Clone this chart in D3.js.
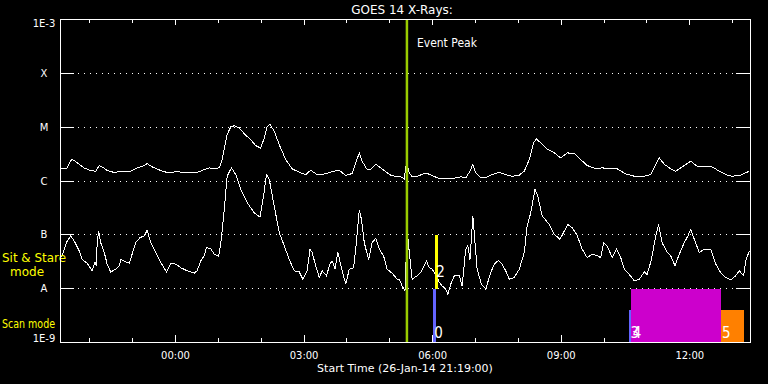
<!DOCTYPE html>
<html>
<head>
<meta charset="utf-8">
<script src="https://cdn.jsdelivr.net/npm/d3@7"></script>
<style>
  body { margin: 0; background: #000; }
  svg { display: block; font-family: "DejaVu Sans", sans-serif; }
</style>
</head>
<body>
<script>
// GOES 14 X-ray flux, minutes after start time (26-Jan-14 21:19:00)
const upperMin = [
  0, 10, 16, 20, 27, 34, 43, 50, 55, 59,
  66, 76, 85, 99, 108, 118, 122, 129, 141, 150,
  164, 178, 192, 202, 209, 216, 223, 227, 232, 234,
  239, 244, 251, 258, 267, 274, 281, 286, 290, 294,
  300, 307, 316, 325, 335, 344, 351, 360, 372, 381,
  391, 400, 409, 414, 419, 423, 430, 435, 442, 449,
  456, 463, 472, 477, 482, 485, 489, 493, 500, 512,
  519, 528, 538, 549, 561, 568, 574, 578, 582, 589,
  596, 605, 615, 624, 633, 643, 650, 657, 663, 667,
  673, 682, 692, 701, 710, 720, 729, 738, 750, 759,
  769, 780, 792, 804, 818, 827, 833, 839, 846, 855,
  862, 871, 883, 892, 902, 913, 923, 932, 941, 953,
  965];
const upperFlux = [
  1.7e-6, 1.7e-6, 2.45e-6, 2.35e-6, 2.0e-6, 1.7e-6, 1.53e-6, 1.49e-6, 1.9e-6, 1.79e-6,
  1.53e-6, 1.41e-6, 1.47e-6, 1.49e-6, 1.72e-6, 1.9e-6, 2.06e-6, 1.79e-6, 1.53e-6, 1.41e-6,
  1.45e-6, 1.41e-6, 1.41e-6, 1.6e-6, 1.72e-6, 1.65e-6, 1.72e-6, 2.45e-6, 5.3e-6, 7.1e-6,
  9.9e-6, 1.04e-5, 9.5e-6, 7.4e-6, 5.7e-6, 4.45e-6, 4.0e-6, 6.2e-6, 1.01e-5, 1.1e-5,
  8.2e-6, 4.6e-6, 2.45e-6, 1.65e-6, 1.42e-6, 1.29e-6, 1.55e-6, 1.29e-6, 1.33e-6, 1.47e-6,
  1.55e-6, 1.24e-6, 1.35e-6, 2.13e-6, 3.26e-6, 2.28e-6, 1.6e-6, 1.6e-6, 2.0e-6, 1.72e-6,
  1.45e-6, 1.26e-6, 1.17e-6, 1.17e-6, 1.07e-6, 2.13e-6, 1.39e-6, 1.17e-6, 1.2e-6, 1.37e-6,
  1.28e-6, 1.12e-6, 1.07e-6, 1.08e-6, 1.17e-6, 1.12e-6, 1.49e-6, 2.0e-6, 1.39e-6, 1.12e-6,
  1.12e-6, 1.29e-6, 1.42e-6, 1.29e-6, 1.2e-6, 1.26e-6, 1.49e-6, 2.45e-6, 5.0e-6, 5.9e-6,
  5.0e-6, 3.86e-6, 3.26e-6, 2.63e-6, 3.26e-6, 3.16e-6, 2.45e-6, 1.9e-6, 1.65e-6, 1.72e-6,
  1.65e-6, 1.65e-6, 1.33e-6, 1.2e-6, 1.2e-6, 1.29e-6, 1.84e-6, 2.63e-6, 2.0e-6, 1.65e-6,
  1.49e-6, 1.79e-6, 2.28e-6, 1.84e-6, 1.79e-6, 1.79e-6, 1.49e-6, 1.29e-6, 1.2e-6, 1.26e-6,
  1.49e-6];

const lowerMin = [
  0, 3, 10, 15, 20, 27, 31, 38, 45, 49,
  51, 52, 54, 57, 62, 66, 71, 78, 83, 85,
  92, 97, 101, 106, 112, 118, 122, 127, 134, 141,
  149, 155, 162, 169, 178, 188, 192, 197, 202, 205,
  211, 216, 222, 225, 230, 234, 240, 246, 253, 262,
  272, 280, 285, 289, 293, 300, 307, 314, 321, 328,
  335, 340, 346, 350, 353, 358, 363, 367, 373, 378,
  381, 385, 389, 394, 400, 405, 411, 414, 419, 422,
  426, 432, 437, 442, 447, 453, 458, 465, 472, 475,
  479, 483, 486, 489, 493, 500, 505, 513, 517, 521,
  526, 531, 535, 540, 543, 547, 552, 559, 563, 568,
  571, 574, 578, 581, 584, 590, 596, 603, 608, 614,
  619, 624, 629, 636, 643, 650, 654, 659, 665, 669,
  675, 685, 692, 700, 706, 711, 717, 724, 731, 738,
  745, 752, 757, 761, 766, 773, 779, 785, 790, 797,
  804, 811, 818, 822, 828, 834, 838, 843, 850, 855,
  861, 867, 874, 879, 883, 888, 895, 902, 911, 918,
  925, 932, 939, 946, 951, 957, 960, 965];
const lowerFlux = [
  3.7e-8, 4.0e-8, 7.5e-8, 9.3e-8, 7.5e-8, 4.9e-8, 3.4e-8, 2.9e-8, 2.1e-8, 3.0e-8,
  2.6e-8, 7.0e-8, 1.15e-7, 7.0e-8, 4.6e-8, 2.8e-8, 2.0e-8, 2.25e-8, 2.6e-8, 3.4e-8,
  3.1e-8, 2.9e-8, 4.3e-8, 7.0e-8, 8.7e-8, 9.3e-8, 1.2e-7, 7.0e-8, 4.6e-8, 3.0e-8,
  2.0e-8, 2.9e-8, 2.8e-8, 2.4e-8, 2.1e-8, 1.9e-8, 2.1e-8, 3.2e-8, 4.0e-8, 5.7e-8,
  5.4e-8, 4.3e-8, 3.9e-8, 6.5e-8, 2.9e-7, 1.2e-6, 1.72e-6, 1.29e-6, 6.8e-7, 3.9e-7,
  2.5e-7, 2.1e-7, 5.1e-7, 1.29e-6, 1.04e-6, 3.3e-7, 1.07e-7, 6.1e-8, 3.4e-8, 2.1e-8,
  2.0e-8, 1.47e-8, 2.1e-8, 5.3e-8, 4.6e-8, 2.6e-8, 1.58e-8, 2.1e-8, 1.7e-8, 2.8e-8,
  3.2e-8, 2.3e-8, 4.6e-8, 2.4e-8, 1.19e-8, 2.25e-8, 2.4e-8, 5.3e-8, 2.8e-7, 1.9e-7,
  7.0e-8, 3.4e-8, 7.0e-8, 8.4e-8, 5.3e-8, 4.0e-8, 2.25e-8, 1.9e-8, 1.47e-8, 1.47e-8,
  1.1e-8, 8.9e-9, 1.24e-7, 4.6e-8, 1.47e-8, 1.7e-8, 1.95e-8, 3.2e-8, 2.4e-8, 2.25e-8,
  1.8e-8, 1.28e-8, 1.1e-8, 9.6e-9, 7.7e-9, 1.19e-8, 1.7e-8, 1.7e-8, 1.1e-8, 5.3e-8,
  6.1e-8, 3.4e-8, 2.2e-7, 7.0e-8, 2.25e-8, 1.19e-8, 9.6e-9, 1.95e-8, 2.8e-8, 3.3e-8,
  2.8e-8, 2.1e-8, 1.47e-8, 1.58e-8, 2.25e-8, 4.6e-8, 1.42e-7, 2.5e-7, 6.8e-7, 5.1e-7,
  2.2e-7, 1.53e-7, 1.0e-7, 8.1e-8, 1.15e-7, 1.53e-7, 1.33e-7, 9.6e-8, 5.3e-8, 3.7e-8,
  4.3e-8, 4.0e-8, 3.7e-8, 7.0e-8, 6.1e-8, 3.7e-8, 5.3e-8, 3.7e-8, 2.25e-8, 1.8e-8,
  1.37e-8, 1.47e-8, 2.0e-8, 1.8e-8, 3.4e-8, 9.3e-8, 1.53e-7, 7.0e-8, 4.6e-8, 4.0e-8,
  2.6e-8, 4.3e-8, 7.0e-8, 9.3e-8, 1.24e-7, 8.1e-8, 4.6e-8, 5.3e-8, 5.3e-8, 2.8e-8,
  1.95e-8, 1.58e-8, 1.42e-8, 1.7e-8, 2.1e-8, 1.7e-8, 3.2e-8, 4.9e-8];

// flare class levels on the left axis
const levelNames = ["1E-3", "X", "M", "C", "B", "A", "1E-9"];
const levelFlux = [1e-3, 1e-4, 1e-5, 1e-6, 1e-7, 1e-8, 1e-9];

// observing blocks (27-Jan-14, UT)
const modes = ["Sit & Stare", "Scan"];
const obsLabel = ["0", "2", "3", "4", "5"];
const obsMode = ["Scan", "Sit & Stare", "Scan", "Scan", "Scan"];
const obsStart = ["06:00", "06:03", "10:35", "10:38", "12:43"];
const obsEnd = ["06:04", "06:07", "10:38", "12:44", "13:16"];
const obsFill = [1, 1, 0.6, 1, 0.6];
const eventPeak = "05:24";

const obsColor = ["#6464ff", "#ffff00", "#6464ff", "#cc00cc", "#ff8000"];

let width = 768;
let height = 384;
let pLeft = 60, pRight = 750, pTop = 19, pBottom = 342;

const t0 = new Date(Date.UTC(2014, 0, 26, 21, 19));
const tAt = m => new Date(t0.getTime() + m * 60000);
const parseT = d3.utcParse("%Y-%m-%d %H:%M");
const onDay = s => parseT("2014-01-27 " + s);

let x = d3.scaleUtc([t0, tAt(966)], [pLeft, pRight]);
let y = d3.scaleLog([1e-9, 1e-3], [pBottom, pTop]);
let band = d3.scaleBand(modes, [y(1e-7), y(1e-9)]);

const svg = d3.select("body")
  .append("svg")
  .attr("width", width)
  .attr("height", height);

svg.append("rect").attr("width", width).attr("height", height).attr("fill", "#000");

svg.append("defs").append("clipPath").attr("id", "plot")
  .append("rect").attr("x", pLeft + 0.5).attr("y", pTop + 0.5)
  .attr("width", pRight - pLeft).attr("height", pBottom - pTop);

// dotted class lines
svg.append("g")
  .selectAll("line")
  .data(levelFlux.slice(1, -1))
  .join("line")
  .attr("x1", pLeft + 18).attr("x2", pRight - 14)
  .attr("y1", d => Math.round(y(d)) + 0.5)
  .attr("y2", d => Math.round(y(d)) + 0.5)
  .attr("stroke", "#fff")
  .attr("stroke-dasharray", "1,5")
  .attr("shape-rendering", "crispEdges");

// axes
const hhmm = d3.utcFormat("%H:%M");
const major = d => d.getUTCHours() % 3 === 0;

const gx = svg.append("g")
  .attr("transform", "translate(0," + pBottom + ")")
  .call(d3.axisBottom(x).ticks(d3.utcHour.every(1)).tickSize(-4).tickSizeOuter(0).tickPadding(10)
    .tickFormat(d => major(d) ? hhmm(d) : ""));
gx.selectAll(".tick").filter(major).select("line").attr("y2", -7);

const gxt = svg.append("g")
  .attr("transform", "translate(0," + pTop + ")")
  .call(d3.axisTop(x).ticks(d3.utcHour.every(1)).tickSize(-4).tickSizeOuter(0).tickFormat(""));
gxt.selectAll(".tick").filter(major).select("line").attr("y2", 6);

const gy = svg.append("g")
  .attr("transform", "translate(" + pLeft + ",0)")
  .call(d3.axisLeft(y).tickValues(levelFlux).tickSize(-14).tickSizeOuter(0)
    .tickFormat((d, i) => levelNames[i]));
gy.selectAll(".tick text")
  .attr("x", -16)
  .attr("text-anchor", "middle")
  .attr("dy", (d, i) => i === 0 ? "0.72em" : i === levelFlux.length - 1 ? "-0.05em" : "0.36em");

svg.append("g")
  .attr("transform", "translate(" + pRight + ",0)")
  .call(d3.axisRight(y).tickValues(levelFlux).tickSize(-14).tickSizeOuter(0).tickFormat(""));

svg.selectAll(".domain").remove();
svg.selectAll(".tick line").attr("stroke", "#fff").attr("shape-rendering", "crispEdges");
svg.selectAll(".tick text").attr("fill", "#fff").attr("font-family", "DejaVu Sans").attr("font-size", 10);

// flux curves
let line = d3.line()
  .x(d => x(tAt(d[0])))
  .y(d => y(d[1]));

const curves = svg.append("g").attr("clip-path", "url(#plot)");
[d3.zip(upperMin, upperFlux), d3.zip(lowerMin, lowerFlux)].forEach(series => {
  curves.append("path")
    .datum(series)
    .attr("d", line)
    .attr("fill", "none")
    .attr("stroke", "#fff")
    .attr("stroke-width", 1)
    .attr("shape-rendering", "crispEdges");
});

// observing blocks
const obs = obsLabel.map((lab, i) => ({
  label: lab, mode: obsMode[i], start: onDay(obsStart[i]), end: onDay(obsEnd[i]), fill: obsFill[i], color: obsColor[i]
}));

svg.append("g")
  .selectAll("rect")
  .data(obs)
  .join("rect")
  .attr("x", d => x(d.start) + 0.5)
  .attr("y", d => band(d.mode) + band.bandwidth() * (1 - d.fill) + 0.5)
  .attr("width", d => Math.max(x(d.end) - x(d.start), 2))
  .attr("height", d => band.bandwidth() * d.fill)
  .attr("fill", d => d.color)
  .attr("shape-rendering", "crispEdges");

const labelDrop = { "Sit & Stare": 43, "Scan": 50 };
svg.append("g")
  .selectAll("text")
  .data(obs)
  .join("text")
  .attr("x", d => x(d.start) + 2)
  .attr("y", d => band(d.mode) + labelDrop[d.mode])
  .attr("fill", "#fff")
  .attr("font-family", "'Liberation Sans Narrow', 'DejaVu Sans Condensed', 'Liberation Sans', sans-serif")
  .attr("font-size", 15)
  .text(d => d.label);

// event peak marker
const xp = x(onDay(eventPeak)) + 0.5;
svg.append("line")
  .attr("x1", xp).attr("x2", xp)
  .attr("y1", pTop + 0.5).attr("y2", pBottom + 0.5)
  .attr("stroke", "#99cc00")
  .attr("stroke-width", 2.5);
svg.append("text")
  .attr("x", xp + 10).attr("y", 47)
  .attr("fill", "#fff").attr("font-size", 12)
  .attr("textLength", 60).attr("lengthAdjust", "spacingAndGlyphs")
  .text("Event Peak");

// mode labels
const modeText = (tx, ty, str, len) => {
  const t = svg.append("text")
    .attr("x", tx).attr("y", ty)
    .attr("fill", "#ffff00").attr("font-size", 12)
    .text(str);
  if (len) t.attr("textLength", len).attr("lengthAdjust", "spacingAndGlyphs");
};
modeText(2, band("Sit & Stare") + 28, "Sit & Stare", 64);
modeText(10, band("Sit & Stare") + 42, "mode", 0);
modeText(2, band("Scan") + 40, "Scan mode", 53);

// frame
svg.append("rect")
  .attr("x", pLeft + 0.5).attr("y", pTop + 0.5)
  .attr("width", pRight - pLeft).attr("height", pBottom - pTop)
  .attr("fill", "none").attr("stroke", "#fff")
  .attr("shape-rendering", "crispEdges");

// titles
svg.append("text")
  .attr("x", (pLeft + pRight) / 2 - 3).attr("y", 14)
  .attr("text-anchor", "middle")
  .attr("fill", "#fff").attr("font-size", 12)
  .text("GOES 14 X-Rays:");
svg.append("text")
  .attr("x", (pLeft + pRight) / 2).attr("y", 372)
  .attr("text-anchor", "middle")
  .attr("fill", "#fff").attr("font-size", 11)
  .text("Start Time (26-Jan-14 21:19:00)");
</script>
</body>
</html>
